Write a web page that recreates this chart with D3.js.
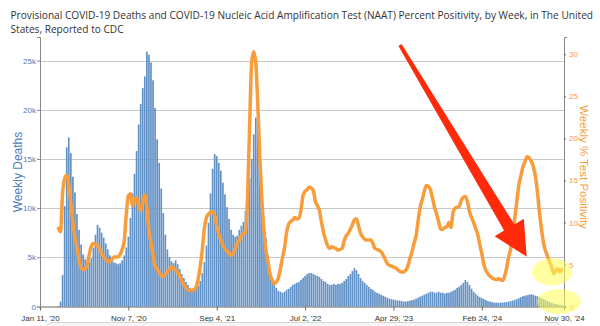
<!DOCTYPE html>
<html><head><meta charset="utf-8">
<script src="https://cdn.jsdelivr.net/npm/d3@7"></script>
<style>html,body{margin:0;padding:0;background:#fff;} svg{display:block;}</style>
</head><body><svg id="c" width="600" height="326"></svg>
<script>
// ---------- DATA ----------
const firstWeek = "2020-01-11";   // week-ending date of deaths[0]
const lastWeek = "2024-11-30";
const titleLines = ["Provisional COVID-19 Deaths and COVID-19 Nucleic Acid Amplification Test (NAAT) Percent Positivity, by Week, in The United", "States, Reported to CDC"];
const deaths = [
0,0,0,0,0,0,0,0,0,60,
500,3200,10200,16200,17200,15600,13200,11600,9400,7800,
6300,5300,4800,4500,4500,4900,6000,7300,8300,8000,
7500,7000,6400,5800,5200,4800,4500,4400,4300,4400,
4700,5200,6000,7100,9000,11500,13500,15800,18500,20600,
22200,23400,25900,25600,24800,23000,20200,17000,14600,12000,
9500,7300,5800,5000,4600,4400,4700,4300,3800,3300,
2900,2500,2200,1900,1800,1700,1800,2100,2600,3400,
4500,6200,8500,11500,14000,15500,15300,14600,13800,12600,
11400,10100,8900,7800,7300,7100,7200,7800,8200,8600,
9700,11300,13000,15000,17500,19200,18800,15500,11600,8900,
6900,5200,3800,2900,2300,1900,1600,1500,1400,1500,
1700,1800,2000,2200,2300,2400,2500,2700,2900,3100,
3300,3400,3400,3300,3200,3100,3000,2800,2600,2500,
2300,2200,2200,2300,2200,2300,2300,2400,2600,2800,
3100,3300,3600,3900,3700,3300,2900,2600,2400,2200,
2000,1800,1700,1500,1400,1300,1200,1100,1000,900,
800,750,700,650,600,600,550,500,500,550,
600,650,700,800,900,1000,1100,1200,1300,1400,
1500,1500,1400,1400,1500,1400,1400,1300,1400,1400,
1500,1600,1700,1900,2000,2200,2400,2700,2500,2200,
1800,1500,1300,1100,950,850,750,650,550,500,
450,400,400,380,380,400,420,450,500,550,
600,650,750,850,950,1050,1100,1150,1200,1250,
1200,1100,1050,950,850,750,650,550,450,380,
300,250,200,150,100,50
];
const positivityFirstIndex = 9;   // positivity[0] is the week of deaths[9]
const positivity = [
9.3,8.9,13.5,15.2,15.6,14.5,12.3,10.0,8.2,7.0,
5.6,4.6,4.4,4.5,5.0,6.2,7.2,7.5,7.4,7.2,
6.9,6.3,5.9,5.6,5.4,5.3,5.6,5.9,5.9,5.9,
6.2,6.8,7.8,11.0,13.2,13.4,12.0,12.6,13.0,12.0,
11.4,12.4,13.3,11.8,9.0,7.6,6.2,4.8,4.5,4.0,
3.7,3.6,3.8,4.2,4.4,4.7,4.6,4.3,4.0,3.7,
3.1,2.6,2.3,2.0,1.9,1.9,2.0,2.3,3.3,4.8,
6.8,9.3,10.6,11.0,11.2,11.3,10.8,9.6,8.6,7.9,
7.3,6.8,6.6,6.3,6.1,6.3,6.9,7.5,7.9,8.4,
8.7,8.8,13.0,21.4,29.0,30.3,29.0,24.0,17.5,12.7,
9.0,6.6,5.3,3.8,3.1,2.7,2.9,3.4,4.5,5.8,
7.0,8.8,9.8,10.1,10.3,10.6,10.4,10.5,11.5,13.2,
13.7,13.9,14.2,14.1,13.8,12.5,12.0,11.4,10.0,8.8,
7.9,7.2,6.9,7.1,7.0,6.9,6.7,6.8,6.9,7.8,
8.4,8.7,9.2,9.7,10.3,10.4,9.6,8.7,8.3,8.0,
7.9,7.9,7.9,7.5,6.9,6.8,6.7,6.5,6.1,5.6,
5.1,4.9,4.8,4.7,4.6,4.4,4.2,4.1,4.1,4.3,
4.8,5.7,6.5,7.5,8.4,10.2,11.8,12.7,13.7,14.4,
14.3,13.9,12.9,11.8,11.0,10.1,9.2,9.2,9.4,9.5,
10.0,9.4,11.2,11.7,11.8,11.9,12.6,13.0,13.1,12.5,
11.3,10.6,10.0,9.3,8.6,7.4,6.3,5.0,4.3,3.9,
3.6,3.4,3.3,3.2,3.3,3.2,3.1,3.5,4.5,5.8,
6.8,8.6,10.4,12.4,14.4,15.5,16.6,17.2,17.8,17.7,
17.3,16.7,15.6,13.8,11.3,9.3,7.6,6.6,6.0,5.3,
4.7,3.9,4.3,4.5,4.1,4.4
];
const xTickDates = ["2020-01-11","2020-11-07","2021-09-04","2022-07-02","2023-04-29","2024-02-24","2024-11-30"];
const xTickLabels = ["Jan 11, '20","Nov 7, '20","Sep 4, '21","Jul 2, '22","Apr 29, '23","Feb 24, '24","Nov 30, '24"];
const deathTicks = [0,5000,10000,15000,20000,25000];
const deathTickLabels = ["0","5k","10k","15k","20k","25k"];
const positivityTicks = [0,5,10,15,20,25,30];
const leftTitle = "Weekly Deaths";
const rightTitle = "Weekly % Test Positivity";

// ---------- CHART ----------
const svg = d3.select("#c");
const parse = d3.utcParse("%Y-%m-%d");
const start = parse(firstWeek);
const weekDate = i => d3.utcDay.offset(start, 7 * i);

const L = 40, R = 564, B = 306.5, T = 37;
const x = d3.scaleUtc().domain([start, parse(lastWeek)]).range([L, R]);
const yL = d3.scaleLinear().domain([0, 27400]).range([B, T]);
const yR = d3.scaleLinear().domain([0, 32.06]).range([B, T]);

const BLUE = "#4a7ebb", ORANGE = "#f89c3c", AXISFONT = "'Liberation Sans', Arial, sans-serif";

// gridlines
svg.append("g").selectAll("line").data(deathTicks.filter(d => d > 0)).join("line")
  .attr("x1", L).attr("x2", R)
  .attr("y1", d => Math.round(yL(d)) + 0.5).attr("y2", d => Math.round(yL(d)) + 0.5)
  .attr("stroke", "#c9c9c9").attr("stroke-width", 1);

// bars
const bw = (x(weekDate(1)) - x(weekDate(0))) * 0.82;
svg.append("g").selectAll("rect").data(deaths).join("rect")
  .attr("x", (d, i) => x(weekDate(i)) - bw / 2)
  .attr("width", bw)
  .attr("y", d => yL(d))
  .attr("height", d => B - yL(d))
  .attr("fill", "#6291c6");

// line
const posData = positivity.map((p, k) => ({ date: weekDate(k + positivityFirstIndex), p }));
svg.append("path").datum(posData)
  .attr("fill", "none").attr("stroke", ORANGE).attr("stroke-width", 3.5)
  .attr("stroke-linejoin", "round").attr("stroke-linecap", "round")
  .attr("d", d3.line().x(d => x(d.date)).y(d => yR(d.p)).curve(d3.curveMonotoneX));

// axes
const gx = svg.append("g").attr("transform", `translate(0,${B})`)
  .call(d3.axisBottom(x).tickValues(xTickDates.map(parse)).tickFormat((d, i) => xTickLabels[i]).tickSize(4).tickSizeOuter(0));
gx.select(".domain").attr("stroke", "#666");
gx.selectAll(".tick line").attr("stroke", "#666");
gx.selectAll("text").attr("font-family", AXISFONT).attr("font-size", 8).attr("fill", "#333").attr("dy", "0.9em");

const gl = svg.append("g").attr("transform", `translate(${L},0)`)
  .call(d3.axisLeft(yL).tickValues(deathTicks).tickFormat((d, i) => deathTickLabels[i]).tickSize(3).tickSizeOuter(3));
gl.select(".domain").attr("stroke", "#888");
gl.selectAll(".tick line").attr("stroke", "#888");
gl.selectAll("text").attr("font-family", AXISFONT).attr("font-size", 8).attr("fill", BLUE).attr("x", -4);

const gr = svg.append("g").attr("transform", `translate(${R},0)`)
  .call(d3.axisRight(yR).tickValues(positivityTicks).tickSize(2).tickSizeOuter(3));
gr.select(".domain").attr("stroke", "#888");
gr.selectAll(".tick line").attr("stroke", "#666");
gr.selectAll("text").attr("font-family", AXISFONT).attr("font-size", 8).attr("fill", ORANGE).attr("x", 5);

// axis titles
svg.append("text").attr("transform", "translate(22,172) rotate(-90)")
  .attr("text-anchor", "middle").attr("font-family", AXISFONT).attr("font-size", 12)
  .attr("fill", BLUE).text(leftTitle);
svg.append("text").attr("transform", "translate(580,167) rotate(90)")
  .attr("text-anchor", "middle").attr("font-family", AXISFONT).attr("font-size", 11.5)
  .attr("fill", ORANGE).text(rightTitle);

// title
const t1 = svg.append("text").attr("x", 10.5).attr("y", 18.5)
  .attr("font-family", "'Open Sans', sans-serif").attr("font-size", 11).attr("fill", "#333").text(titleLines[0]);
const w = t1.node().getComputedTextLength();
const fs = 11 * 583 / w;
t1.attr("font-size", fs);
svg.append("text").attr("x", 10.5).attr("y", 33)
  .attr("font-family", "'Open Sans', sans-serif").attr("font-size", fs).attr("fill", "#333").text(titleLines[1]);

// bottom navigator edge
svg.append("rect").attr("x", 46).attr("y", 322.5).attr("width", 515).attr("height", 14).attr("rx", 6)
  .attr("fill", "#f6f6f6").attr("stroke", "#d6d6d6");

// highlight ellipses
svg.append("ellipse").attr("cx", 552).attr("cy", 272).attr("rx", 20).attr("ry", 13.5)
  .attr("fill", "#ffff55").attr("opacity", 0.55);
svg.append("ellipse").attr("cx", 559).attr("cy", 301.5).attr("rx", 22).attr("ry", 12.5)
  .attr("fill", "#ffff55").attr("opacity", 0.55);

// arrow
(function () {
  const tail = [400, 45], tip = [526.7, 256.7];
  const dx = tip[0] - tail[0], dy = tip[1] - tail[1], len = Math.hypot(dx, dy);
  const u = [dx / len, dy / len], n = [-u[1], u[0]];
  const headLen = 34, headHalf = 17, shaftTail = 1.8, shaftHead = 6;
  const b = [tip[0] - u[0] * headLen, tip[1] - u[1] * headLen];
  const p = (c, s) => [c[0] + n[0] * s, c[1] + n[1] * s];
  const pts = [p(tail, shaftTail), p(b, shaftHead), p(b, headHalf), tip, p(b, -headHalf), p(b, -shaftHead), p(tail, -shaftTail)];
  svg.append("polygon").attr("points", pts.map(q => q.join(",")).join(" ")).attr("fill", "#ff2a0a");
})();
</script></body></html>
